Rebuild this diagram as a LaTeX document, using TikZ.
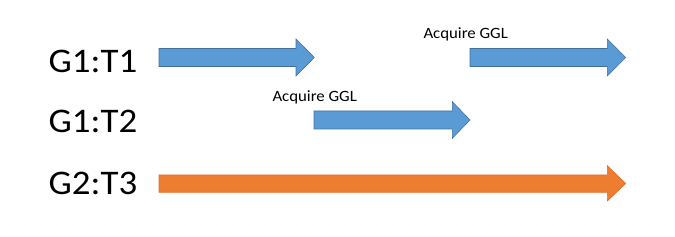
\documentclass[tikz,border=0pt]{standalone}
\usepackage{fontspec}
\setmainfont{Carlito}[FakeStretch=1.07]
\definecolor{bfill}{HTML}{5B9BD5}
\definecolor{bline}{HTML}{41719C}
\definecolor{ofill}{HTML}{ED7D31}
\definecolor{oline}{HTML}{E07028}
\tikzset{
  bluearrow/.style={fill=bfill,draw=bline,line width=0.6pt,line join=miter},
  orangearrow/.style={fill=ofill,draw=oline,line width=0.6pt,line join=miter},
  rowlabel/.style={anchor=base west,inner sep=0pt,font=\fontsize{34.5}{36}\selectfont},
  acq/.style={anchor=base west,inner sep=0pt,font=\fontsize{15.7}{17}\selectfont}
}
\begin{document}
\begin{tikzpicture}[x=1pt,y=-1pt]
\useasboundingbox (0,0) rectangle (675,237);
% row labels
\node[rowlabel] (l1) at (48.5,72.3) {G1:T1};
\node[rowlabel] (l2) at (48.5,132.3) {G1:T2};
\node[rowlabel] (l3) at (48.5,195) {G2:T3};
% row 1 arrows
\draw[bluearrow] (159,48.5) -- (296,48.5) -- (296,39) -- (314.3,57.5) -- (296,76) -- (296,66.5) -- (159,66.5) -- cycle;
\draw[bluearrow] (470,48.5) -- (607.3,48.5) -- (607.3,39) -- (625.7,57.5) -- (607.3,76) -- (607.3,66.5) -- (470,66.5) -- cycle;
% row 2 arrow
\draw[bluearrow] (314,111) -- (452.3,111) -- (452.3,101.7) -- (470,120) -- (452.3,138.3) -- (452.3,129) -- (314,129) -- cycle;
% row 3 arrow
\draw[orangearrow] (159,175) -- (607.3,175) -- (607.3,165.7) -- (625.7,183.5) -- (607.3,201) -- (607.3,192.3) -- (159,192.3) -- cycle;
% labels
\node[acq] (a1) at (423.3,39) {Acquire GGL};
\node[acq] (a2) at (272.3,101.5) {Acquire GGL};
\end{tikzpicture}
\end{document}
